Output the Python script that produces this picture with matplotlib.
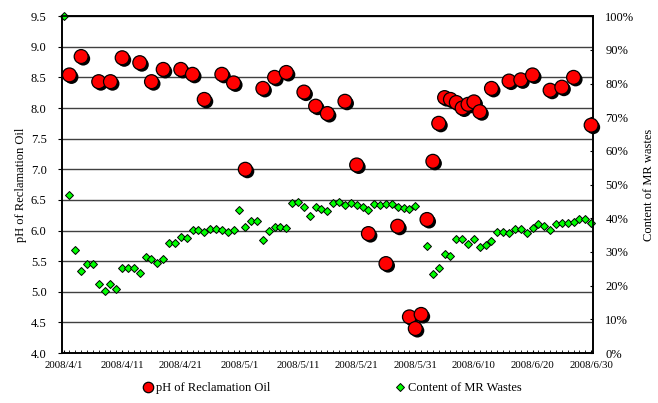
import numpy as np
import pandas as pd
import matplotlib
matplotlib.use("Agg")
import matplotlib.pyplot as plt
import matplotlib.dates as mdates
import matplotlib.patheffects as pe
from matplotlib.ticker import FuncFormatter, MultipleLocator

plt.rcParams['font.family'] = ['Liberation Serif', 'DejaVu Serif']

# pH of reclamation oil, sampled on some days (days counted from 2008/4/1)
ph_days = [1, 3, 6, 8, 10, 13, 15, 17, 20, 22, 24, 27, 29, 31, 34, 36, 38, 41, 43, 45,
           48, 50, 52, 55, 57, 59, 60, 61, 62, 63, 64, 65, 66, 67, 68, 69, 70, 71, 73, 76,
           78, 80, 83, 85, 87, 90]
ph_values = [8.54, 8.84, 8.43, 8.43, 8.82, 8.74, 8.43, 8.63, 8.63, 8.55, 8.14, 8.55, 8.41, 7.00,
             8.32, 8.50, 8.58, 8.26, 8.03, 7.91, 8.11, 7.07, 5.95, 5.46, 6.07, 4.59, 4.40, 4.63,
             6.18, 7.13, 7.75, 8.17, 8.14, 8.09, 8.00, 8.06, 8.10, 7.94, 8.32, 8.44, 8.46, 8.54,
             8.29, 8.34, 8.50, 7.72]

# daily content of MR wastes (%), 2008/4/1 .. 2008/6/30
content = [100, 46.9, 30.6, 24.4, 26.4, 26.4, 20.5, 18.4, 20.4, 19.0,
           25.3, 25.3, 25.3, 23.8, 28.6, 27.9, 26.6, 27.9, 32.7, 32.7,
           34.5, 34.1, 36.5, 36.4, 35.9, 36.8, 36.9, 36.4, 35.8, 36.5,
           42.6, 37.4, 39.3, 39.3, 33.5, 36.2, 37.5, 37.5, 37.0, 44.5,
           44.7, 43.2, 40.7, 43.4, 42.7, 42.1, 44.4, 44.7, 43.9, 44.4,
           43.9, 43.4, 42.4, 44.2, 43.9, 44.2, 44.2, 43.4, 42.9, 42.7,
           43.7, np.nan, 31.7, 23.6, 25.1, 29.4, 28.8, 33.7, 33.7, 32.3,
           33.7, 31.4, 32.0, 33.3, 36.0, 36.0, 35.6, 36.9, 36.9, 35.6,
           37.0, 38.2, 37.8, 36.5, 38.3, 38.5, 38.7, 39.0, 39.7, 39.7,
           38.7]

dates = pd.date_range("2008-04-01", "2008-06-30", freq="D")
ph_dates = dates[ph_days]

fig = plt.figure(figsize=(6.58, 4.03), dpi=100)
ax = fig.add_axes([0.094, 0.124, 0.807, 0.836])
ax2 = ax.twinx()
ax3 = ax.twinx()

# pH axis with horizontal grid
ax.set_ylim(4.0, 9.5)
ax.yaxis.set_major_locator(MultipleLocator(0.5))
ax.yaxis.set_major_formatter(FuncFormatter(lambda v, p: f"{v:.1f}"))
ax.grid(axis='y', color='#404040', lw=1.0)
ax.set_axisbelow(True)
ax.set_ylabel("pH of Reclamation Oil", fontsize=9, labelpad=3)
ax.tick_params(axis='y', direction='out', length=3, pad=8, labelsize=9)

ax.set_xlim(dates[0] - pd.Timedelta(hours=7), dates[-1] + pd.Timedelta(hours=7))
ax.set_xticks(dates[::10])
ax.xaxis.set_major_formatter(FuncFormatter(
    lambda v, p: "{0.year}/{0.month}/{0.day}".format(mdates.num2date(v))))
ax.set_xticks(dates, minor=True)
ax.tick_params(axis='x', which='both', direction='in', length=2.5, pad=6, labelsize=7.8)

# percentage axis on the right
ax2.set_ylim(0, 100)
ax2.yaxis.set_major_locator(MultipleLocator(10))
ax2.yaxis.set_major_formatter(FuncFormatter(lambda v, p: f"{v:.0f}%"))
ax2.tick_params(axis='y', direction='in', length=2.5, pad=9, labelsize=9)
ax2.set_ylabel("Content of MR wastes", fontsize=9, labelpad=6, rotation=90)

for a in (ax, ax2):
    for s in a.spines.values():
        s.set_color('k')
        s.set_linewidth(1.2)

h2, = ax2.plot(dates, content, ls='none', marker='D', ms=4.2, mfc='#00FF00', mec='k',
               mew=0.7, clip_on=False, label="Content of MR Wastes")

# pH markers drawn on top, with a dark drop shadow
ax3.set_ylim(4.0, 9.5)
ax3.axis('off')
h1, = ax3.plot(ph_dates, ph_values, ls='none', marker='o', ms=10, mfc='#FF0000', mec='k',
               mew=0.9, clip_on=False, label="pH of Reclamation Oil",
               path_effects=[pe.SimplePatchShadow(offset=(1.5, -1.5), shadow_rgbFace='k', alpha=1.0),
                             pe.Normal()])

leg = fig.legend([h1, h2], [h1.get_label(), h2.get_label()], loc='center',
                 bbox_to_anchor=(0.505, 0.037), ncol=2, frameon=False, fontsize=9,
                 handlelength=0.8, handletextpad=0.2, columnspacing=10)
leg.legend_handles[0].set_markersize(7.5)
leg.legend_handles[0].set_path_effects([])
leg.legend_handles[1].set_markersize(4.5)

fig.savefig("out.png", dpi=100)
